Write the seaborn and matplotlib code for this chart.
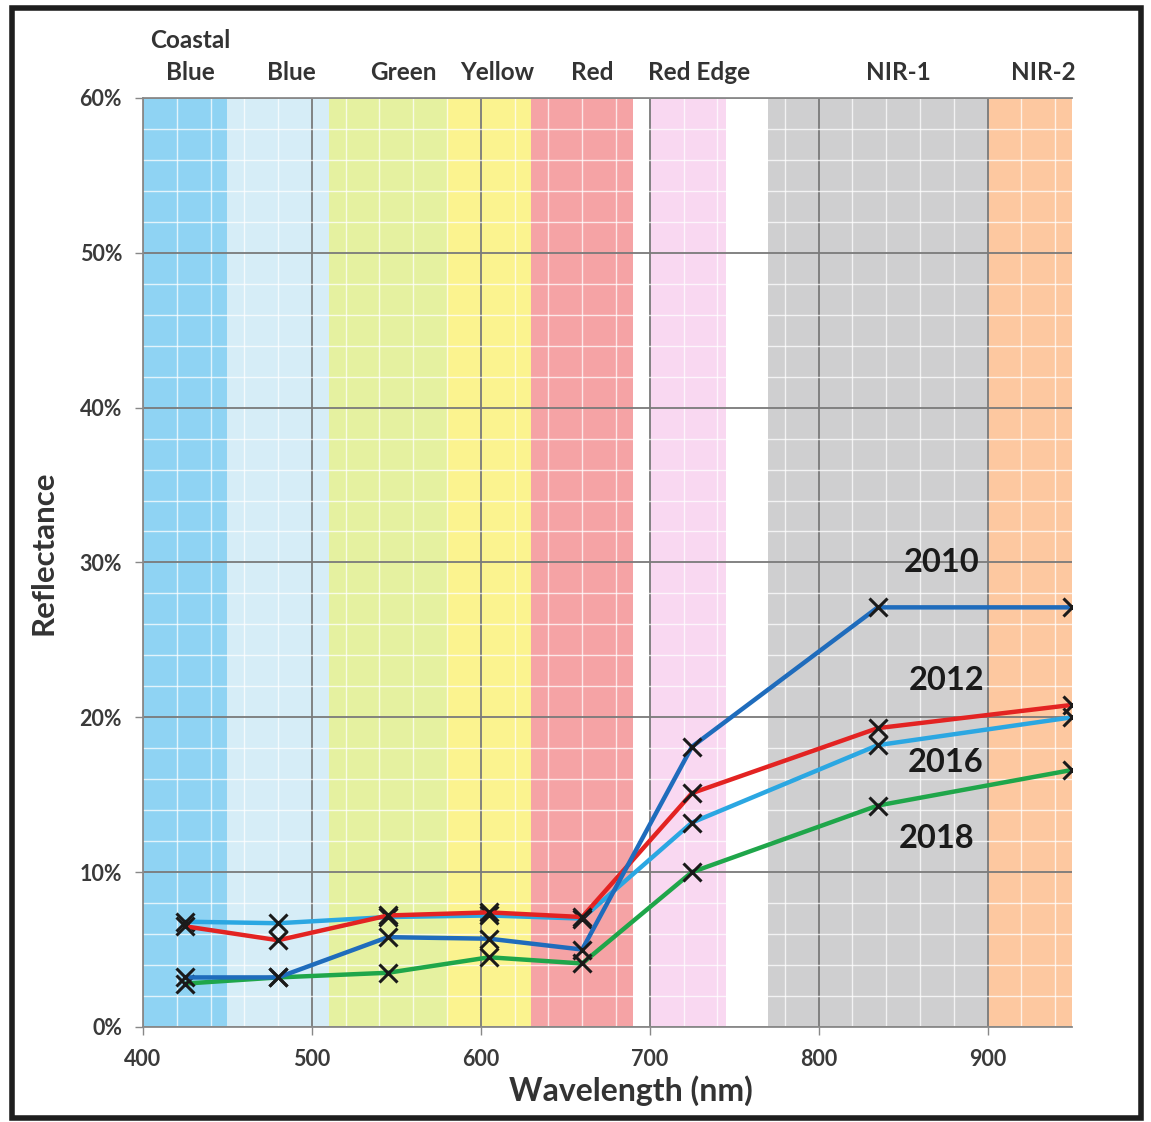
import seaborn as sns
import numpy as np
import pandas as pd
import matplotlib.pyplot as plt
from matplotlib.patches import Rectangle
from matplotlib.ticker import FuncFormatter, MultipleLocator

# data
wavelength = [425, 480, 545, 605, 660, 725, 835, 950]
refl_2010 = [3.2, 3.2, 5.8, 5.7, 5.0, 18.1, 27.1, 27.1]
refl_2012 = [6.5, 5.6, 7.2, 7.4, 7.1, 15.1, 19.3, 20.8]
refl_2016 = [6.8, 6.7, 7.1, 7.2, 7.0, 13.2, 18.2, 20.0]
refl_2018 = [2.8, 3.2, 3.5, 4.5, 4.1, 10.0, 14.3, 16.6]
years = ['2010', '2012', '2016', '2018']

band_names = ['Coastal\nBlue', 'Blue', 'Green', 'Yellow', 'Red', 'Red Edge', 'NIR-1', 'NIR-2']
band_start = [400, 450, 510, 580, 630, 700, 770, 900]
band_end = [450, 510, 580, 630, 690, 745, 900, 950]
band_colors = ['#8fd3f3', '#d6edf7', '#e5f1a0', '#fbf38f', '#f5a3a5', '#f9d8f1', '#cfcfd0', '#fdc8a0']

series = {'2010': refl_2010, '2012': refl_2012, '2016': refl_2016, '2018': refl_2018}
df = pd.DataFrame([(y, w, r) for y in years for w, r in zip(wavelength, series[y])],
                  columns=['year', 'wavelength', 'reflectance'])

line_colors = {'2010': '#1f6cbc', '2012': '#e32322', '2016': '#2ba7e2', '2018': '#1fa64a'}

sns.set_style('white')
plt.rcParams['font.family'] = ['Lato', 'DejaVu Sans']

fig = plt.figure(figsize=(11.51, 11.22), dpi=100)
ax = fig.add_axes([0.1242, 0.0847, 0.8072, 0.828])

# spectral bands
for s, e, c in zip(band_start, band_end, band_colors):
    ax.axvspan(s, e, color=c, zorder=0, lw=0)

# lines (plot order so 2010 sits on top)
for y in ['2018', '2016', '2012', '2010']:
    sns.lineplot(data=df[df.year == y], x='wavelength', y='reflectance', ax=ax,
                 color=line_colors[y], lw=3.2, marker='x', markersize=13,
                 markeredgecolor='#1a1a1a', markeredgewidth=2.2, legend=False, zorder=3)

ax.set_xlim(400, 950)
ax.set_ylim(0, 60)
ax.set_axisbelow(True)
ax.xaxis.set_major_locator(MultipleLocator(100))
ax.xaxis.set_minor_locator(MultipleLocator(20))
ax.yaxis.set_major_locator(MultipleLocator(10))
ax.yaxis.set_minor_locator(MultipleLocator(2))
ax.yaxis.set_major_formatter(FuncFormatter(lambda v, p: '%d%%' % v))
ax.grid(which='major', color='#7a7a7a', lw=1.3)
ax.grid(which='minor', color='white', lw=1.0, alpha=0.75)

ax.tick_params(which='major', length=6, width=1, color='#888', labelsize=15.5,
               labelcolor='#3a3a3a', direction='out', left=True, bottom=True)
ax.tick_params(axis='y', pad=9)
ax.tick_params(axis='x', pad=10)
ax.tick_params(which='minor', length=0)
for lab in ax.get_xticklabels() + ax.get_yticklabels():
    lab.set_fontweight('bold')

for side in ['left', 'bottom', 'top']:
    ax.spines[side].set_color('#8a8a8a')
    ax.spines[side].set_linewidth(1.3)
ax.spines['right'].set_visible(False)

ax.set_xlabel('Wavelength (nm)', fontsize=23, fontweight='bold', color='#333')
ax.set_ylabel('Reflectance', fontsize=22.5, fontweight='bold', color='#333')
ax.xaxis.set_label_coords(0.525, -0.052)
ax.yaxis.set_label_coords(-0.092, 0.51)

# band labels above the plot
label_x = [428, 488, 554, 610, 666, 729, 847, 933]
for name, lx in zip(band_names, label_x):
    ax.text(lx, 1.015, name, transform=ax.get_xaxis_transform(), ha='center', va='bottom',
            fontsize=17.5, fontweight='bold', color='#333', linespacing=1.45)

# year labels
year_pos = {'2010': (873, 30.0), '2012': (876, 22.4), '2016': (875, 17.1), '2018': (870, 12.2)}
for y in years:
    ax.text(*year_pos[y], y, ha='center', va='center', fontsize=23.5, fontweight='bold', color='#1a1a1a')

fig.patches.append(Rectangle((0.010, 0.004), 0.981, 0.989, transform=fig.transFigure,
                             fill=False, ec='#1e1e1e', lw=4))

plt.savefig('out.png', dpi=100)
